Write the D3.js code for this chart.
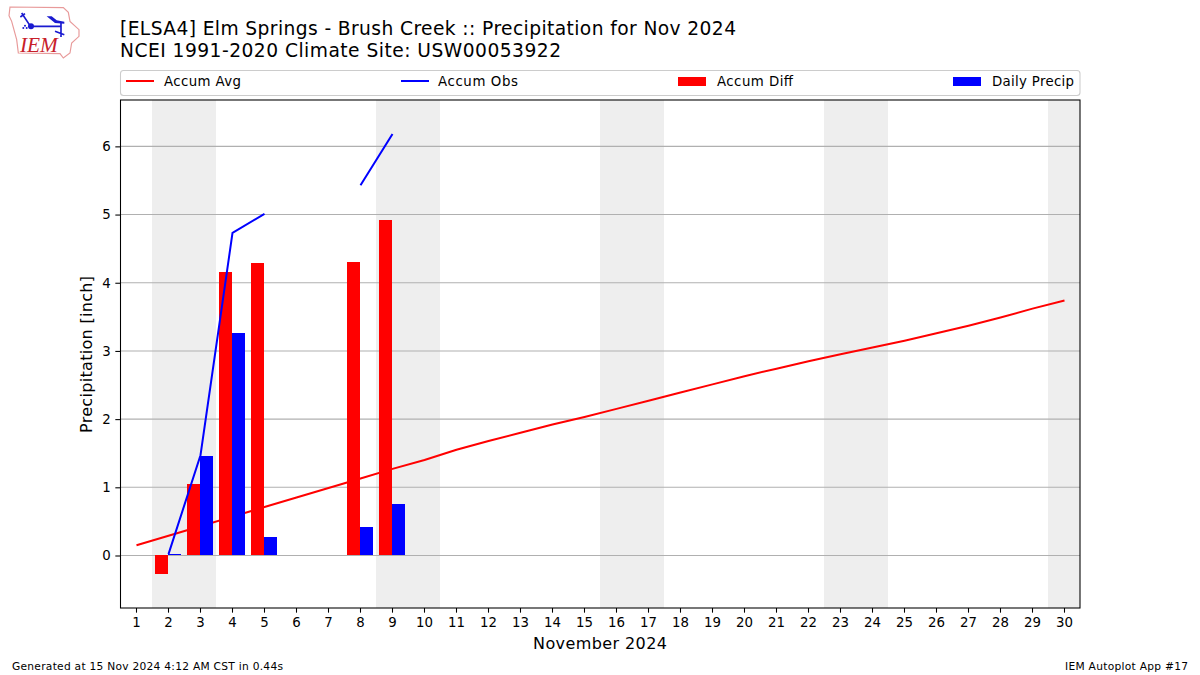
<!DOCTYPE html>
<html>
<head>
<meta charset="utf-8">
<script src="https://cdn.jsdelivr.net/npm/d3@7"></script>
<style>
  html, body { margin: 0; padding: 0; background: #fff; }
  svg { display: block; }
  text { font-family: "DejaVu Sans", sans-serif; fill: #000; }
</style>
</head>
<body>
<svg id="chart" width="1200" height="675"></svg>
<script>
const days = d3.range(1, 31);
const accumAvg = [0.15, 0.29, 0.43, 0.57, 0.71, 0.85, 0.99, 1.13, 1.27, 1.40,
  1.55, 1.68, 1.80, 1.92, 2.03, 2.15, 2.27, 2.39, 2.51, 2.63,
  2.74, 2.85, 2.95, 3.05, 3.15, 3.26, 3.37, 3.49, 3.62, 3.74];
const accumObs = [null, 0.02, 1.47, 4.73, 5.01, null, null, 5.43, 6.18];
const accumDiff = [null, -0.27, 1.05, 4.16, 4.29, null, null, 4.30, 4.92];
const dailyPrecip = [null, 0.02, 1.46, 3.26, 0.27, null, null, 0.42, 0.75];
const weekends = [[1.5, 3.5], [8.5, 10.5], [15.5, 17.5], [22.5, 24.5], [29.5, 30.5]];
const yTicks = [0, 1, 2, 3, 4, 5, 6];

const titleLines = ["[ELSA4] Elm Springs - Brush Creek :: Precipitation for Nov 2024",
  "NCEI 1991-2020 Climate Site: USW00053922"];
const titleWidths = [616, 441];

const svg = d3.select("#chart");
const left = 120, right = 1080, top_ = 100, bottom = 608;

const x = d3.scaleLinear().domain([0.5, 30.5]).range([left, right]);
const y = d3.scaleLinear().domain([-0.77, 6.68]).range([bottom, top_]);
const barW = x(0.4) - x(0);

// weekend shading
svg.append("g").selectAll("rect").data(weekends).join("rect")
  .attr("x", d => x(d[0]))
  .attr("width", d => x(d[1]) - x(d[0]))
  .attr("y", top_)
  .attr("height", bottom - top_)
  .attr("fill", "#eeeeee")
  .attr("shape-rendering", "crispEdges");

// grid
svg.append("g").selectAll("line").data(yTicks).join("line")
  .attr("x1", left).attr("x2", right)
  .attr("y1", d => y(d)).attr("y2", d => y(d))
  .attr("stroke", "#b0b0b0").attr("stroke-width", 1.07);

const avgLine = d3.line().x((d, i) => x(days[i])).y(d => y(d));
svg.append("path").datum(accumAvg)
  .attr("d", avgLine)
  .attr("transform", "translate(0.5,0)")
  .attr("fill", "none").attr("stroke", "#ff0000").attr("stroke-width", 2);

const barRect = (v, i) => ({ day: days[i], v });
svg.append("g").selectAll("rect")
  .data(accumDiff.map(barRect).filter(d => d.v !== null)).join("rect")
  .attr("x", d => x(d.day - 0.4))
  .attr("width", barW)
  .attr("y", d => y(Math.max(d.v, 0)))
  .attr("height", d => Math.abs(y(d.v) - y(0)))
  .attr("fill", "#ff0000")
  .attr("shape-rendering", "crispEdges");
svg.append("g").selectAll("rect")
  .data(dailyPrecip.map(barRect).filter(d => d.v !== null)).join("rect")
  .attr("x", d => x(d.day))
  .attr("width", barW)
  .attr("y", d => y(d.v))
  .attr("height", d => y(0) - y(d.v))
  .attr("fill", "#0000ff")
  .attr("shape-rendering", "crispEdges");

const obsLine = d3.line()
  .defined(d => d !== null)
  .x((d, i) => x(days[i]))
  .y(d => y(d));
svg.append("path").datum(accumObs)
  .attr("d", obsLine)
  .attr("transform", "translate(0.5,0)")
  .attr("fill", "none").attr("stroke", "#0000ff").attr("stroke-width", 2);

// axes
const xAxis = svg.append("g")
  .attr("transform", `translate(0,${bottom})`)
  .call(d3.axisBottom(x).tickValues(days).tickFormat(d3.format("d")).tickSize(4.67).tickPadding(4.5));
const yAxis = svg.append("g")
  .attr("transform", `translate(${left},0)`)
  .call(d3.axisLeft(y).tickValues(yTicks).tickFormat(d3.format("d")).tickSize(4.67).tickPadding(4.5));
[xAxis, yAxis].forEach(a => {
  a.selectAll("text").style("font-size", "13.33px").style("font-family", '"DejaVu Sans", sans-serif').attr("fill", "#000");
  a.selectAll("line").attr("stroke", "#000").attr("stroke-width", 1.07);
  a.select(".domain").remove();
});
svg.append("rect")
  .attr("x", left + 0.5).attr("y", top_)
  .attr("width", right - left - 0.5).attr("height", bottom - top_)
  .attr("fill", "none").attr("stroke", "#000").attr("stroke-width", 1.07);

svg.append("text").attr("x", 600).attr("y", 649)
  .attr("text-anchor", "middle").style("font-size", "16px").attr("textLength", 134).text("November 2024");
svg.append("text")
  .attr("transform", "translate(92,354.5) rotate(-90)")
  .attr("text-anchor", "middle").style("font-size", "16px").attr("textLength", 157).text("Precipitation [inch]");

// title
svg.selectAll(".title").data(titleLines).join("text")
  .attr("class", "title")
  .attr("x", 120)
  .attr("y", (d, i) => 35 + i * 22)
  .style("font-size", "18.67px")
  .attr("textLength", (d, i) => titleWidths[i])
  .text(d => d);

// legend
svg.append("rect")
  .attr("x", 120.5).attr("y", 70.5).attr("width", 959.5).attr("height", 25)
  .attr("rx", 3).attr("fill", "#fff").attr("stroke", "#cccccc").attr("stroke-width", 1.07);
const legendLabels = ["Accum Avg", "Accum Obs", "Accum Diff", "Daily Precip"];
const legendColors = ["#ff0000", "#0000ff", "#ff0000", "#0000ff"];
const legendKind = ["line", "line", "patch", "patch"];
const legendX = [126, 401, 678, 953];
const legendTextX = [164, 438, 717, 992];
const legendTextW = [77, 80, 76, 82];
const legend = svg.append("g").selectAll("g").data(legendLabels).join("g");
legend.each(function (d, i) {
  const g = d3.select(this);
  if (legendKind[i] === "line") {
    g.append("line").attr("x1", legendX[i]).attr("x2", legendX[i] + 28).attr("y1", 81).attr("y2", 81)
      .attr("stroke", legendColors[i]).attr("stroke-width", 2);
  } else {
    g.append("rect").attr("x", legendX[i]).attr("y", 77).attr("width", 28).attr("height", 9)
      .attr("fill", legendColors[i]).attr("shape-rendering", "crispEdges");
  }
  g.append("text").attr("x", legendTextX[i]).attr("y", 86)
    .style("font-size", "13.33px").attr("textLength", legendTextW[i]).text(d);
});

// footer
svg.append("text").attr("x", 12).attr("y", 670).style("font-size", "10.67px")
  .attr("textLength", 271).text("Generated at 15 Nov 2024 4:12 AM CST in 0.44s");
svg.append("text").attr("x", 1065).attr("y", 670).style("font-size", "10.67px")
  .attr("textLength", 123).text("IEM Autoplot App #17");

// IEM logo
const logo = svg.append("g").attr("transform", "translate(5,3) scale(0.3333)");
logo.append("path")
  .attr("d", "M15,12 L175,14 L190,28 L195,55 L222,80 L222,100 L200,120 L195,150 L175,165 L165,152 L40,150 L35,110 L20,55 L12,38 Z")
  .attr("fill", "#fff").attr("stroke", "#e89a9a").attr("stroke-width", 3.5);
logo.append("path")
  .attr("d", "M50,30 L75,68 M46,42 L60,32 M78,70 L170,70 M168,58 L168,102 M150,85 L178,95")
  .attr("fill", "none").attr("stroke", "#1a1ad0").attr("stroke-width", 5);
logo.append("path")
  .attr("d", "M125,40 L140,40 L155,52 L178,56 L178,62 L150,60 Z")
  .attr("fill", "#1a1ad0");
logo.append("circle").attr("cx", 78).attr("cy", 70).attr("r", 9).attr("fill", "#1a1ad0");
logo.selectAll(".dot").data([[60, 68], [55, 75], [65, 75]]).join("circle")
  .attr("class", "dot").attr("cx", d => d[0]).attr("cy", d => d[1]).attr("r", 3).attr("fill", "#1a1ad0");
logo.append("text").attr("x", 45).attr("y", 147)
  .style("fill", "#c8202a")
  .style("font-family", '"Liberation Serif", serif').style("font-style", "italic").style("font-size", "64px").text("IEM");
</script>
</body>
</html>
